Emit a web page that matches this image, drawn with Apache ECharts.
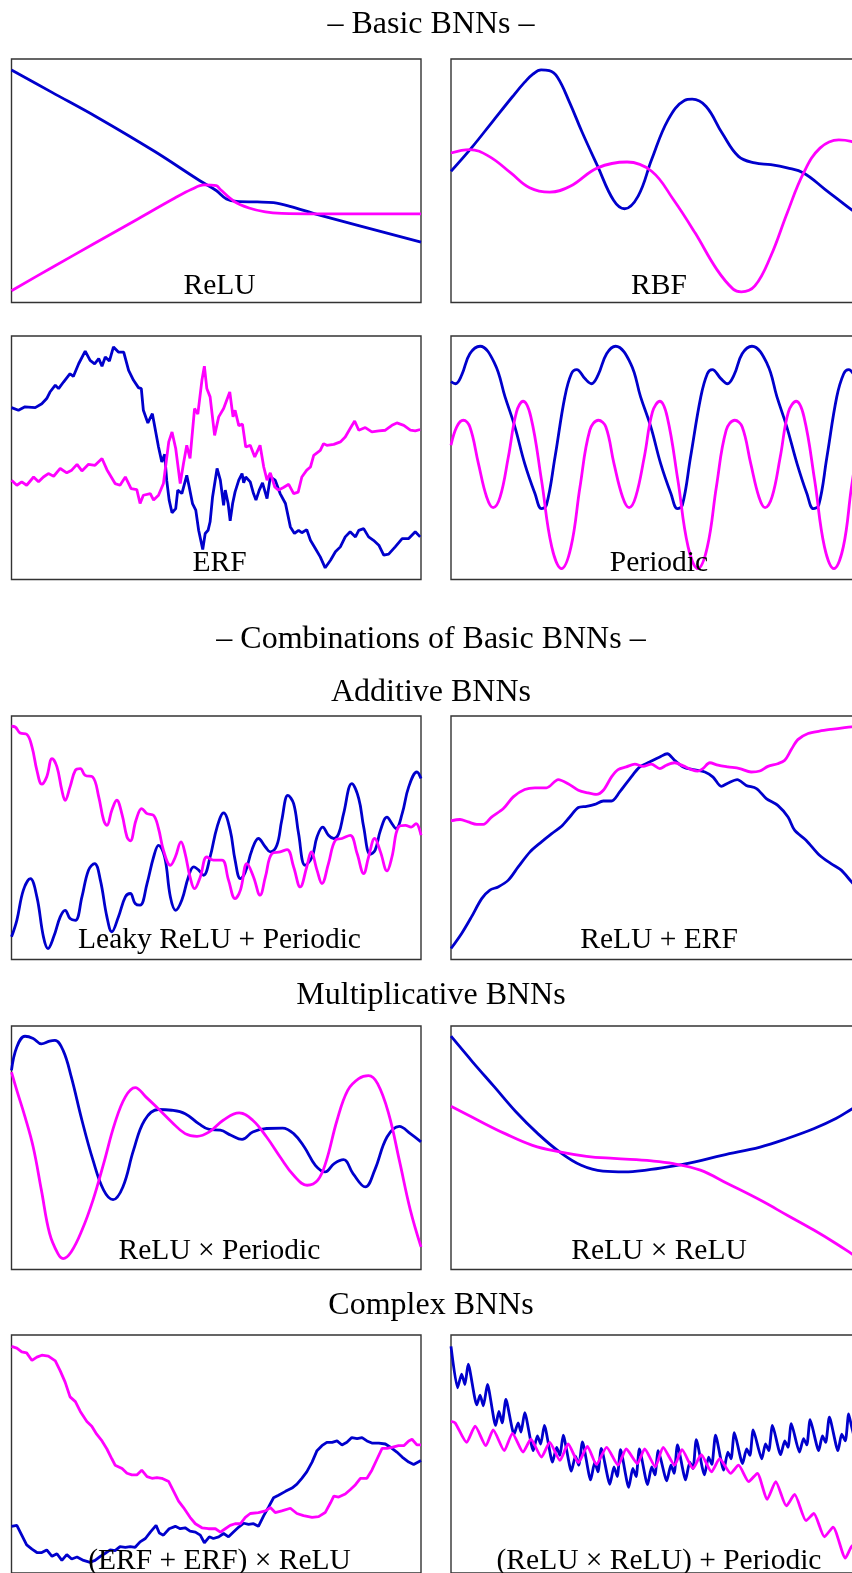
<!DOCTYPE html>
<html><head><meta charset="utf-8">
<script src="https://cdn.jsdelivr.net/npm/echarts@6/dist/echarts.min.js"></script>
<style>html,body{margin:0;padding:0;background:#fff;overflow:hidden}#c{width:872px;height:1573px}</style>
</head><body><div id="c"></div>
<script>
// ---- section titles ----
const sectionTitles = ['– Basic BNNs –', '– Combinations of Basic BNNs –', 'Additive BNNs', 'Multiplicative BNNs', 'Complex BNNs'];
const panelLabels = ['ReLU', 'RBF', 'ERF', 'Periodic', 'Leaky ReLU + Periodic', 'ReLU + ERF', 'ReLU × Periodic', 'ReLU × ReLU', '(ERF + ERF) × ReLU', '(ReLU × ReLU) + Periodic'];

// ---- data: [x (% of panel width), y (% of panel height)] ----
const reluBlue = [[0,95.5],[10,86.2],[21,76],[35,62],[46,50],[50,46],[52.5,42.5],[55,41.5],[60,41.3],[64,41],[68,39.5],[75,36],[100,24.8]];
const reluMag = [[0,4.8],[10,14.5],[20,24],[30,33.5],[40,43],[44,46.5],[47,48.3],[50,48],[51,46.4],[54.3,41.6],[58,38.8],[62,37.2],[66,36.6],[75,36.4],[100,36.4]];

const rbfBlue = [[0,53.9],[5,63.5],[10,74],[15,84.5],[18,90.5],[20,93.8],[22,95.5],[24,95.2],[26,92.5],[29,82],[32,70],[35.8,56],[39.7,42],[42.4,38.5],[45.7,43.7],[49,58.7],[53,75],[57,83],[58.9,83.5],[62.3,80.5],[66.2,69.6],[70.2,60],[74.2,57.3],[78.1,56.6],[82.1,55.3],[86.1,53.2],[91.4,46.4],[97.7,38.2],[100,35.5]];
const rbfMag = [[0,61.4],[4.6,62.8],[9.3,60],[14.6,53.2],[19.2,47.1],[24.1,45.3],[29.1,47.7],[35.8,55.3],[43,57.7],[49,53.9],[54.3,42.3],[59.6,28.6],[64.9,13.6],[68.9,5.5],[70.9,4.4],[74.2,6.8],[78.1,19.1],[82.1,36.8],[86.1,53.2],[90.1,63.4],[94.7,66.8],[97.7,66.2],[100,64.5]];

const erfBlue = [[0,70.6],[1.7,69.5],[3.3,70.9],[5.8,70.6],[7.4,72.2],[8.6,74.3],[9.4,77],[10.7,79.8],[11.5,78.4],[12.7,81.1],[14.3,84.5],[15.1,83.4],[16.4,88.6],[18.0,93.8],[19.2,90],[20.3,88.6],[21.3,90.7],[22.1,87.6],[22.9,91.4],[23.9,89.7],[24.9,95.5],[26.1,93.4],[27.4,93.4],[28.6,85.9],[29.8,81.8],[31.0,78.8],[31.7,78.4],[32.2,69.5],[33.3,64.3],[34.4,68.1],[35.3,59.9],[35.9,54.4],[36.7,48.3],[37.4,51.4],[37.9,40.8],[38.5,32.6],[39.2,27.4],[40.1,29.1],[40.6,36.7],[41.6,35.3],[42.8,42.8],[43.4,38],[44.2,31.2],[45.0,28.5],[45.7,20.2],[46.7,12.3],[47.3,18.9],[48.0,20.2],[48.5,23.7],[49.1,33.9],[50.2,45.6],[51.0,40.8],[51.8,30.5],[52.2,36.7],[52.9,31.2],[53.4,24.1],[54.0,31.2],[54.6,36],[55.5,40.8],[56.3,43.5],[56.7,39.7],[57.2,42.1],[58.3,40.1],[59.1,35.3],[59.7,32.6],[60.5,36.7],[61.3,39.7],[62.4,33.2],[63.2,42.1],[64.4,40.8],[65.6,35.3],[66.9,31.2],[68.1,21.6],[69.1,18.9],[70.1,20.2],[70.9,19.2],[72.1,20.5],[73.0,16.1],[74.2,12.7],[75.4,9.3],[76.6,4.8],[77.9,7.9],[79.1,11.4],[80.3,13.4],[81.5,17.5],[82.7,19.6],[84.0,17.5],[84.8,20.2],[86.0,20.9],[87.2,17.5],[88.4,16.1],[89.7,14.1],[90.9,10],[92.1,10.4],[93.7,13.4],[95.4,16.8],[97.0,16.8],[98.6,19.6],[99.8,17.5]];
const erfMag = [[0,40.8],[1.3,38.7],[2.5,40.1],[3.7,38.7],[5.4,42.1],[6.6,40.1],[7.8,42.1],[9.0,43.5],[10.3,42.4],[11.9,45.6],[13.5,43.8],[14.7,44.9],[16.0,47.3],[17.2,44.6],[18.8,47.3],[20.4,46.9],[22.1,49.7],[23.3,45.1],[25.3,39.4],[26.5,38.7],[27.8,42.1],[29.2,37.3],[30.6,36.9],[31.4,31.2],[32.2,34.6],[33.9,35.3],[34.7,32.6],[35.9,34.6],[37.1,39.4],[38.4,56.5],[39.2,60.6],[40.1,53.8],[41.2,39.4],[42.0,47.6],[42.8,55.1],[43.6,49.7],[44.7,70.2],[45.5,67.9],[46.5,81.8],[47.1,87.6],[47.7,78.4],[48.5,75],[49.6,59.2],[50.6,66.8],[51.8,70.2],[53.3,77],[54.1,66.8],[54.6,69.5],[55.5,63.2],[56.4,63.8],[57.2,54.4],[58.3,55.1],[59.4,50.3],[60.7,55.1],[61.6,46.2],[62.4,40.8],[63.2,43.8],[64.3,38],[65.2,36.7],[66.4,37.8],[67.7,39.1],[68.9,35.3],[70.0,35.9],[70.9,42.1],[72.1,44.9],[73.0,46.2],[73.8,51],[75.4,53],[76.2,55.8],[77.0,55.1],[78.7,55.5],[80.3,56.5],[81.5,58.5],[82.7,62],[83.8,65.1],[84.8,61.3],[86.4,62.4],[88.0,60.6],[89.7,61],[91.3,61.3],[92.9,63.3],[94.1,64.3],[95.8,63.3],[97.4,61.3],[98.6,61],[99.8,61.6]];

const periodicBlue = [[0,81.3],[1.1,80.4],[2.6,83.9],[4.6,92.7],[7.1,95.8],[10.7,88.6],[13.2,75],[15.6,62.7],[18.0,47.6],[20.5,35.3],[22.1,29.1],[23.3,30.5],[25.4,50.3],[27.8,75],[29.4,84.5],[30.7,86.2],[32.7,82.5],[34.3,80.4],[35.9,83.9],[38.0,92.7],[40.2,95.8],[43.9,88.6],[46.3,75],[48.8,62.7],[51.2,47.6],[53.7,35.3],[55.3,29.1],[56.5,30.5],[58.5,50.3],[61.0,75],[62.6,84.5],[63.8,86.2],[65.9,82.5],[67.5,80.4],[69.1,83.9],[71.1,92.7],[73.5,95.8],[77.2,88.6],[79.6,75],[82.0,62.7],[84.5,47.6],[86.9,35.3],[88.5,29.1],[89.8,30.5],[91.8,50.3],[94.2,75],[95.9,84.5],[97.1,86.2],[99.1,82.5],[100,81.5]];
const periodicMag = [[0,55.1],[1.4,62.7],[3.0,65.4],[4.6,62.7],[6.7,47.6],[8.7,33.9],[10.3,29.5],[12.0,33.9],[14.0,50.3],[16.0,68.8],[17.6,73.2],[19.5,66.8],[22.1,40.8],[24.6,13.4],[27.0,4.5],[29.3,13.4],[31.5,38],[33.9,61.3],[36.0,65.4],[37.8,62.7],[39.8,47.6],[41.9,33.9],[43.5,29.5],[45.1,33.9],[47.2,50.3],[49.2,68.8],[51.0,73.2],[52.8,66.8],[55.4,40.8],[57.9,13.4],[60.3,4.5],[62.6,13.4],[64.8,38],[67.2,61.3],[69.3,65.4],[71.1,62.7],[73.2,47.6],[75.2,33.9],[76.7,29.5],[78.4,33.9],[80.4,50.3],[82.4,68.8],[84.3,73.2],[86.2,66.8],[88.8,40.8],[91.2,13.4],[93.5,4.5],[95.8,13.4],[97.8,38],[100,61.3]];

const leakyBlue = [[0,9.3],[1.3,16.1],[2.9,28.5],[4.6,33.2],[6.2,25.7],[7.8,9.3],[8.9,4.5],[10.3,9.3],[11.9,17.5],[13.1,20.2],[14.3,16.8],[15.6,16.1],[17.2,25.7],[18.8,36.7],[20.3,39.4],[21.7,32.6],[23.3,17.5],[24.5,11.4],[26.1,17.5],[27.8,25.7],[29.0,27.1],[30.2,23],[31.4,22.3],[33.1,31.2],[34.7,42.1],[35.9,46.9],[37.4,42.1],[38.8,25.7],[40.1,20.2],[41.6,24.4],[43.2,33.9],[44.5,38],[45.7,36.7],[46.9,34.6],[48.5,42.1],[50.2,54.4],[51.8,60.2],[53.4,53.1],[54.6,40.8],[55.9,33.2],[57.1,35.9],[58.7,44.9],[60.3,49.7],[62.0,46.2],[63.2,44.2],[64.8,46.9],[66.0,57.2],[67.5,67.4],[68.9,64],[70.1,51.7],[71.7,38.7],[73.4,42.1],[74.6,50.3],[76.0,54.4],[77.4,51],[78.7,49.7],[79.9,51.7],[81.1,59.9],[83.1,72.2],[84.8,66.1],[86.0,54.4],[87.6,43.2],[88.8,44.9],[90.1,53.1],[91.7,58.5],[92.9,55.8],[93.9,53.8],[95.4,59.9],[97.0,70.9],[99.0,77],[100,74.3]];
const leakyMag = [[0,95.8],[0.9,95.5],[2.1,93],[3.7,92.5],[5.0,87.3],[6.2,77.7],[7.4,72],[8.6,75],[9.9,82.5],[11.1,79.1],[12.3,69.5],[13.1,65.4],[14.3,70.9],[15.6,77.7],[16.8,78.4],[18.0,75.6],[19.8,75],[21.3,66.8],[22.5,57.2],[23.3,55.1],[24.5,61.3],[25.7,65.4],[27.0,59.5],[28.2,50.3],[29.0,48.7],[30.4,57.2],[31.8,62],[33.1,59.9],[34.7,59.2],[35.9,53.8],[37.1,44.9],[38.8,38.7],[40.0,42.1],[41.4,48.3],[42.4,43.5],[43.6,33.9],[44.7,29.1],[46.1,33.9],[47.7,42.1],[49.3,40.8],[51.4,40.8],[53.0,32.6],[54.6,25],[55.9,28.5],[57.5,39.4],[59.1,33.9],[60.7,26.4],[62.0,33.9],[63.6,43.5],[65.6,44.2],[67.3,45.1],[68.9,38],[70.5,29.8],[72.1,38],[73.2,44.2],[74.6,36.7],[75.8,31.2],[77.4,39.4],[79.1,49],[80.7,49.7],[82.7,51],[84.4,43.5],[86.0,35.3],[87.2,42.1],[88.7,49.7],[90.1,44.2],[91.7,36.4],[92.9,42.1],[94.5,54.4],[96.2,55.1],[97.6,54.4],[98.8,55.8],[100,51]];

const reluErfBlue = [[0,4.5],[2.6,10.7],[5.0,17.5],[7.5,25],[9.5,28.5],[11.5,29.8],[14.0,32.6],[16.4,38],[19.3,44.2],[22.1,48.3],[24.6,51.7],[27.0,54.7],[29.0,58.5],[31.1,62.4],[33.1,62.9],[35.1,63.7],[37.2,65.1],[39.2,65.1],[41.2,68.8],[43.7,74.3],[46.1,79.1],[48.5,81.1],[51.0,83.2],[52.8,84.5],[54.6,81.8],[56.7,79.1],[59.1,78],[62.0,77],[64.0,74.9],[66.0,71.1],[67.6,72.4],[69.9,73.9],[72.1,71.5],[74.6,70.2],[77.0,66.1],[79.8,63.3],[82.3,58.5],[83.9,53.1],[86.7,49],[90.0,42.8],[92.8,39.4],[95.3,36.7],[97.8,31.9],[100,28]];
const reluErfMag = [[0,56.9],[2.2,57.5],[4.2,56.5],[6.3,55.5],[7.9,55.5],[9.9,58.5],[12.8,62],[15.2,66.8],[18.0,69.8],[20.5,70.5],[23.3,70.5],[26.2,73.9],[28.6,72.2],[31.1,69.5],[33.5,68.4],[35.5,67.8],[37.2,69.5],[39.2,75],[40.8,78],[42.8,79.1],[44.9,80.2],[46.9,79.3],[48.9,80.2],[51.0,78.4],[52.6,79.8],[54.6,80.8],[56.7,79.5],[58.7,78],[60.3,77.4],[61.5,78.4],[63.2,80.8],[65.2,79.8],[67.6,79.1],[70.5,78.4],[73.3,77],[75.4,77.4],[77.4,79.3],[79.8,80.4],[81.5,81.8],[83.1,86.2],[84.7,90.3],[87.2,92.8],[90.0,93.8],[92.8,94.5],[96.1,95.2],[97.8,95.5],[100,95.7]];

const reluPerBlue = [[0,81.8],[1.3,91.4],[3.3,95.8],[5.3,94.9],[7.3,92.7],[9.3,93.8],[10.6,94.1],[12.6,90],[14.6,79.1],[17.2,61.3],[19.9,44.9],[22.5,32.6],[24.8,28.7],[27.2,33.9],[29.8,49],[32.5,61.3],[35.8,65.7],[39.1,65.4],[42.4,64],[45.7,59.9],[48.3,57.5],[51.0,57.2],[53.6,55.1],[56.3,53.4],[58.9,56.5],[62.3,57.9],[66.2,58.1],[68.9,55.8],[71.5,50.3],[74.2,42.8],[76.6,40.1],[78.8,43.5],[81.1,45.1],[83.4,39.4],[86.4,33.9],[88.7,40.8],[91.7,54.4],[94.7,58.8],[97.4,55.8],[100,52.4]];
const reluPerMag = [[0,81.1],[1.3,73.6],[3.3,62.7],[5.3,50.3],[7.3,32.6],[9.3,14.8],[11.3,6.6],[12.6,4.5],[14.6,7.3],[17.2,16.1],[19.9,28.5],[22.5,43.5],[25.2,59.9],[27.8,70.9],[30.2,74.7],[32.8,70.9],[35.8,66.1],[39.1,60.6],[42.4,55.8],[45.3,54.7],[48.3,56.5],[51.7,61.3],[55.6,64.3],[58.9,61.3],[62.3,54.4],[65.6,46.2],[68.9,38.7],[72.2,34.6],[74.8,36.7],[76.8,44.2],[79.5,61.3],[82.1,73.6],[84.8,78.4],[87.2,79.6],[89.4,76.3],[92.1,64],[94.7,44.9],[97.4,24.4],[100,9.3]];

const reluReluBlue = [[0,95.8],[5.3,85.2],[10.6,75],[15.9,64.7],[21.2,55.8],[26.5,48.3],[31.8,42.8],[37.1,40.4],[42.4,40.1],[47.7,40.8],[53.0,42.1],[59.6,44.2],[66.2,46.9],[75.5,50.3],[82.1,53.8],[88.7,57.9],[94.0,62],[97.7,65.7],[100,68]];
const reluReluMag = [[0,67],[6.6,61.3],[13.2,55.8],[19.9,51],[26.5,48.3],[33.1,46.5],[39.7,45.6],[49.0,44.6],[54.3,43.5],[60.9,40.8],[67.5,35.3],[75.5,28.5],[82.1,22.3],[88.7,16.1],[94.0,10.7],[97.7,6.6],[100,4]];

const erfErfReluBlue = [[0,19.6],[1.3,20],[2.5,15.9],[3.7,11.8],[5.0,10],[6.2,8.6],[7.4,8.6],[8.6,9.7],[9.9,7],[11.1,8.1],[12.3,5.3],[13.5,7.7],[14.7,5.9],[16.0,6.7],[17.6,5.3],[19.2,4.5],[20.4,5.3],[21.7,7],[22.9,8.3],[24.1,9.7],[25.3,9.4],[26.5,11.1],[27.8,10.8],[29.0,11.1],[30.2,10.8],[31.4,13.1],[32.7,14.5],[33.9,17.2],[35.3,20],[36.1,16.8],[37.1,15.9],[38.5,18.6],[40.0,19.6],[41.2,18.6],[42.4,19],[43.6,17.6],[44.9,17.2],[46.1,15.9],[47.1,12.7],[48.3,15.2],[49.3,14.5],[50.6,15.2],[51.8,16.6],[53.0,15.2],[54.2,17.2],[55.5,19.3],[56.7,20.9],[57.9,20.4],[59.1,20.7],[60.3,19.6],[61.6,24.1],[62.8,27.8],[64.0,31.6],[65.2,32.7],[66.9,34.3],[68.5,35.7],[69.7,37.3],[70.9,39.8],[72.1,42.5],[73.4,46.6],[74.6,51.4],[75.8,53.5],[77.0,54.9],[78.3,54.9],[79.5,55.5],[80.7,53.8],[81.9,54.9],[83.1,56.9],[84.4,56.5],[85.6,56.9],[86.8,55.5],[88.0,54.6],[89.7,54.6],[91.3,54.2],[92.9,52.4],[94.1,50.8],[95.4,48.7],[97.0,46.6],[98.2,45.6],[100,47.3]];
const erfErfReluMag = [[0,95.2],[1.3,94.5],[2.5,92.9],[3.7,92.5],[5.0,89.3],[6.2,90.7],[7.4,91.5],[9.0,91.1],[10.7,89.1],[11.9,84.9],[13.1,80.2],[14.3,74],[15.6,72],[16.8,67.9],[18.4,63.7],[19.6,61.7],[20.8,58.3],[22.1,55.5],[23.3,52.1],[24.5,48],[25.3,45.3],[27.0,43.9],[28.2,41.9],[29.4,41.2],[30.6,41.2],[31.8,43.2],[33.1,40.5],[34.3,39.8],[35.5,40.1],[36.7,39.8],[38.4,38.4],[39.6,34.3],[40.8,30.2],[42.0,27.5],[43.6,23.4],[44.9,20.7],[46.5,19],[48.1,18.6],[49.8,18.6],[51.0,17.2],[52.2,18.6],[53.4,20],[54.6,20.7],[55.9,20.7],[57.1,23.4],[58.3,25],[60.3,25.4],[62.0,26.1],[63.2,27.5],[64.4,25.4],[66.0,26.1],[68.1,27.2],[69.7,25],[71.3,24.1],[73.4,23.4],[75.0,23.7],[76.6,25.4],[77.9,29.5],[78.7,32.3],[79.9,31.9],[81.5,33.2],[82.7,35],[84.0,37.1],[85.2,39.8],[86.8,39.8],[88.0,43.2],[89.3,48],[90.5,52.4],[91.7,52.4],[92.9,52.8],[94.5,53.5],[95.8,53.5],[97.0,55.5],[97.8,56.2],[99.0,53.8],[100,53.8]];

const rrPerBlue = [[0,95.2],[1.6,77.8],[2.6,83.6],[3.4,79.2],[4.2,87.7],[6.3,70.6],[7.1,74.7],[7.9,70.2],[8.9,79.2],[10.9,62.0],[11.7,67.9],[12.5,63.1],[13.4,72.9],[15.4,58.3],[16.4,63.1],[17.1,59.2],[18.0,67.4],[20.1,51.4],[21.1,57.6],[21.9,54.2],[22.8,62.0],[24.8,46.6],[25.8,52.8],[26.6,49.4],[27.4,57.9],[29.4,42.8],[30.4,49.1],[31.2,45.3],[32.1,55.1],[34.1,39.1],[35.1,46.6],[35.9,42.5],[36.7,52.4],[38.8,37.3],[39.8,44.6],[40.6,40.5],[41.4,51.8],[43.4,36.0],[44.4,43.9],[45.2,40.5],[46.0,52.1],[48.0,37.1],[49.0,44.6],[49.8,41.2],[50.6,51.4],[52.7,38.7],[53.7,45.3],[54.5,41.9],[55.3,53.8],[57.3,39.1],[58.3,46.6],[59.1,43.9],[59.9,56.0],[61.9,41.2],[62.9,48.7],[63.7,45.6],[64.6,57.9],[66.6,43.2],[67.6,50.8],[68.4,48.0],[69.2,59.0],[71.2,46.0],[72.2,52.1],[73.0,49.4],[73.8,60.1],[75.9,48.0],[76.8,54.2],[77.6,51.4],[78.5,62.0],[80.5,49.7],[81.5,55.5],[82.3,52.8],[83.1,62.8],[85.1,50.8],[86.1,56.5],[86.9,53.8],[87.7,64.4],[89.8,51.4],[90.7,57.6],[91.5,54.9],[92.4,65.5],[94.5,51.4],[95.4,58.3],[96.3,55.5],[97.1,66.9],[97.8,61.7],[99.2,52]];
const rrPerMag = [[0,63.7],[1.0,63.1],[3.8,54.9],[5.9,61.7],[8.5,53.5],[10.3,60.1],[13.0,51.4],[15.0,58.7],[17.6,50.8],[19.5,56.2],[22.1,48.7],[24.1,54.9],[26.6,47.3],[28.6,54.2],[31.1,46.4],[33.3,53.2],[35.5,45.6],[38.0,52.8],[40.8,45.3],[42.8,52.1],[45.5,46.0],[47.3,52.1],[49.9,44.6],[51.8,52.8],[54.6,45.3],[56.4,51.8],[59.1,43.9],[61.1,49.7],[63.6,42.5],[65.6,48.0],[68.3,41.9],[70.2,45.3],[72.7,38.4],[74.8,41.9],[77.2,30.9],[79.3,38.4],[81.9,28.2],[83.9,33.0],[86.7,22.0],[88.6,25.0],[91.2,15.2],[93.3,19.3],[96.3,6.3],[97.8,11.1],[100,14]];

// ---- layout (positions / styles) ----
const BLUE = '#0000cc', MAG = '#ff00ff';
const FONT = '"Liberation Serif","Times New Roman",serif';
const colLeft = [11.5, 451];
const panelW = 409.5, panelH = 243.5;
const rowTop = [59, 336, 716, 1026, 1335];
const labelOffset = [16.5, 16.5, 19.5, 18, 17];
const titleY = [25, 640, 693, 996, 1306];
const seriesData = [
  [reluBlue, reluMag, 0.35], [rbfBlue, rbfMag, 0.4],
  [erfBlue, erfMag, false], [periodicBlue, periodicMag, 0.4],
  [leakyBlue, leakyMag, 0.4], [reluErfBlue, reluErfMag, 0.3],
  [reluPerBlue, reluPerMag, 0.4], [reluReluBlue, reluReluMag, 0.4],
  [erfErfReluBlue, erfErfReluMag, false], [rrPerBlue, rrPerMag, 0.2]
];

const grids = [], xAxes = [], yAxes = [], series = [], graphics = [];
seriesData.forEach((p, i) => {
  const row = Math.floor(i / 2), col = i % 2;
  const left = colLeft[col], top = rowTop[row];
  grids.push({left: left, top: top, width: panelW, height: panelH, show: true,
    borderColor: '#333333', borderWidth: 1.4, backgroundColor: 'transparent'});
  xAxes.push({type: 'value', gridIndex: i, min: 0, max: 100, show: false});
  yAxes.push({type: 'value', gridIndex: i, min: 0, max: 100, show: false});
  series.push({type: 'line', xAxisIndex: i, yAxisIndex: i, data: p[0], smooth: p[2],
    symbol: 'none', lineStyle: {color: BLUE, width: 2.8}, z: 2});
  series.push({type: 'line', xAxisIndex: i, yAxisIndex: i, data: p[1], smooth: p[2],
    symbol: 'none', lineStyle: {color: MAG, width: 2.8}, z: 3});
  graphics.push({type: 'text', z: 100, x: left + 208, y: top + panelH - labelOffset[row],
    style: {text: panelLabels[i], font: '29.5px ' + FONT, fill: '#000',
      textAlign: 'center', textVerticalAlign: 'middle', align: 'center', verticalAlign: 'middle'}});
});
sectionTitles.forEach((t, k) => {
  graphics.push({type: 'text', z: 100, x: 431, y: titleY[k],
    style: {text: t, font: '32px ' + FONT, fill: '#000',
      textAlign: 'center', textVerticalAlign: 'middle', align: 'center', verticalAlign: 'middle'}});
});

const chart = echarts.init(document.getElementById('c'), null, {renderer: 'canvas'});
chart.setOption({
  animation: false,
  backgroundColor: '#fff',
  grid: grids, xAxis: xAxes, yAxis: yAxes, series: series,
  graphic: graphics
});
</script>
</body></html>
